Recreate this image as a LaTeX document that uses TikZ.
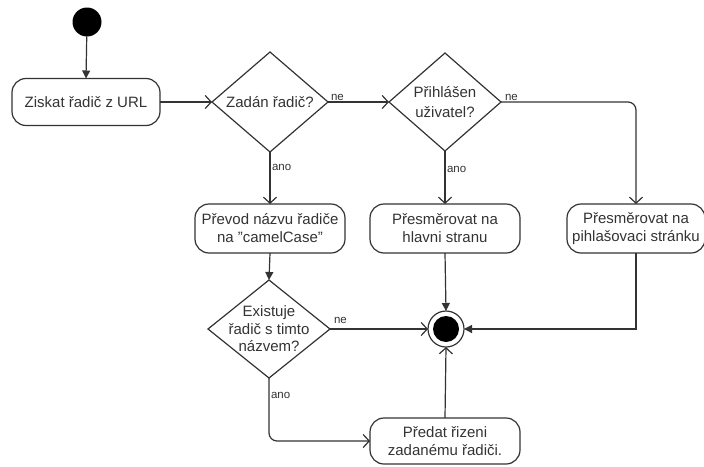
\documentclass[tikz,border=0pt]{standalone}
\usepackage{fontspec}
\setmainfont{Liberation Sans}
\usetikzlibrary{shapes.geometric,arrows.meta}
\definecolor{ink}{HTML}{333333}
\newcommand{\dq}{{\char34}}
\begin{document}
\begin{tikzpicture}[x=1pt,y=-1pt,
  every node/.style={outer sep=0pt, text=ink},
  act/.style={draw=ink, line width=1.2pt, rounded corners=14pt, minimum width=150pt,
    minimum height=49pt, align=center, inner sep=0pt, font=\fontsize{15}{18}\selectfont},
  decision/.style={draw=ink, line width=1.2pt, shape=diamond, inner sep=0pt,
    font=\fontsize{15}{18}\selectfont},
  guard/.style={font=\fontsize{11.5}{13}\selectfont, inner sep=2pt},
  flow/.style={draw=ink, line width=1.2pt},
  openarr/.style={flow, -{Straight Barb[length=6pt,width=13pt,line width=1.2pt]}},
  fillarr/.style={flow, -{Triangle[length=8pt,width=8pt]}}]

\useasboundingbox (0,0) rectangle (704,466);
\clip (0,0) rectangle (704,466);

% initial and final states
\node[circle, fill=black, minimum size=29pt, inner sep=0pt] (start) at (87,22) {};
\node[circle, draw=ink, line width=1.2pt, minimum size=36pt, inner sep=0pt] (fin) at (446,329) {};
\fill[black] (fin.center) circle (13pt);

% actions
\node[act, minimum width=148pt, minimum height=47pt] (b1) at (86,102) {Ziskat řadič z URL};
\node[act] (b4) at (270,228.5) {Převod názvu řadiče\\na \dq camelCase\dq};
\node[act] (b2) at (445,228.5) {Přesměrovat na\\hlavni stranu};
\node[act, minimum width=138pt] (b3) at (636,228.5) {Přesměrovat na\\pihlašovaci stránku};
\node[act, minimum height=46pt] (b5) at (445,441) {Předat řizeni\\zadanému řadiči.};

% decisions
\node[decision, minimum width=116pt, minimum height=100pt,
  label={[align=center, font=\fontsize{15}{18}\selectfont, text=ink]center:Zadán řadič?}] (d1) at (270,102) {};
\node[decision, minimum width=112pt, minimum height=98pt,
  label={[align=center, font=\fontsize{15}{20}\selectfont, text=ink]center:Přihlášen\\uživatel?}] (d2) at (445,102) {};
\node[decision, minimum width=122pt, minimum height=98pt,
  label={[align=center, font=\fontsize{15}{17.5}\selectfont, text=ink]center:Existuje\\řadič s timto\\názvem?}] (d3) at (269,329) {};

% control flow
\draw[fillarr] (start) -- (b1.north);
\draw[openarr] (b1.east) -- (d1.west);
\draw[openarr] (d1.east) -- node[guard, pos=0, anchor=south west, xshift=1pt, yshift=-1pt] {ne} (d2.west);
\draw[openarr] (d1.south) -- node[guard, pos=0.3, right] {ano} (b4.north);
\draw[openarr, rounded corners=8pt] (d2.east) -| node[guard, pos=0, anchor=south west, xshift=2pt, yshift=-1pt] {ne} (b3.north);
\draw[openarr] (d2.south) -- node[guard, pos=0.35, right] {ano} (b2.north);
\draw[fillarr] (b4.south) -- (d3.north);
\draw[fillarr] (b2.south) -- (fin.north);
\draw[fillarr] (b3.south) |- (fin.east);
\draw[openarr] (d3.east) -- node[guard, pos=0, anchor=south west, xshift=2pt, yshift=3pt] {ne} (fin.west);
\draw[openarr, rounded corners=8pt] (d3.south) |- node[guard, pos=0.135, right] {ano} (b5.west);
\draw[openarr] (b5.north) -- (fin.south);
\end{tikzpicture}
\end{document}
